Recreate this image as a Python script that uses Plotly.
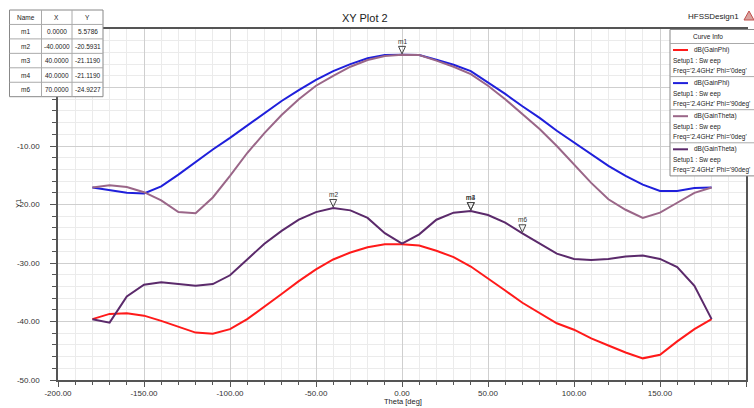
import plotly.graph_objects as go

# ---------------- data ----------------
theta = list(range(-180, 181, 10))

gainphi_phi0 = [-39.6, -38.7, -38.6, -39.0, -39.9, -40.9, -41.9, -42.1, -41.3, -39.6,
                -37.5, -35.3, -33.1, -31.1, -29.4, -28.2, -27.3, -26.8, -26.8,
                -27.0, -27.9, -29.0, -30.6, -32.6, -34.7, -36.8, -38.6, -40.3,
                -41.4, -42.9, -44.1, -45.3, -46.3, -45.7, -43.4, -41.3, -39.6]

gainphi_phi90 = [-17.1, -17.5, -18.0, -18.1, -16.9, -14.9, -12.7, -10.6, -8.6, -6.5,
                 -4.3, -2.3, -0.45, 1.3, 2.8, 4.0, 5.0, 5.55, 5.5786,
                 5.55, 4.75, 3.9, 2.8, 0.9, -1.1, -3.2, -5.2, -7.4,
                 -9.4, -11.4, -13.4, -15.1, -16.6, -17.7, -17.7, -17.2, -17.1]

gaintheta_phi0 = [-17.1, -16.7, -17.0, -17.9, -19.3, -21.3, -21.5, -18.8, -15.1, -11.2,
                  -7.8, -4.7, -2.0, 0.3, 2.0, 3.55, 4.7, 5.4, 5.5786,
                  5.55, 4.6, 3.55, 2.3, 0.3, -2.0, -4.6, -7.1, -10.0,
                  -13.1, -16.3, -19.1, -20.9, -22.3, -21.4, -19.7, -18.0, -17.1]

gaintheta_phi90 = [-39.6, -40.2, -35.7, -33.7, -33.3, -33.6, -33.9, -33.6, -32.1, -29.4,
                   -26.7, -24.5, -22.6, -21.3, -20.5931, -21.0, -22.3, -24.9, -26.7,
                   -25.1, -22.6, -21.4, -21.119, -21.8, -23.1, -24.9224, -26.7, -28.4,
                   -29.3, -29.5, -29.3, -28.9, -28.7, -29.3, -30.7, -33.9, -39.6]

series_names = ["dB(GainPhi)", "dB(GainPhi)", "dB(GainTheta)", "dB(GainTheta)"]
series_freq = ["Freq='2.4GHz' Phi='0deg'", "Freq='2.4GHz' Phi='90deg'",
               "Freq='2.4GHz' Phi='0deg'", "Freq='2.4GHz' Phi='90deg'"]
series_colors = ["#ff1a1a", "#1f1fdb", "#9a6688", "#5b2a6b"]
series_values = [gainphi_phi0, gainphi_phi90, gaintheta_phi0, gaintheta_phi90]

marker_names = ["m1", "m2", "m3", "m4", "m6"]
marker_x = [0.0, -40.0, 40.0, 40.0, 70.0]
marker_y = [5.5786, -20.5931, -21.1190, -21.1190, -24.9227]

x_ticks = [-200, -150, -100, -50, 0, 50, 100, 150, 200]
y_ticks = [-50, -40, -30, -20, -10, 0, 10]

# ---------------- layout helpers ----------------
W, H = 754, 408
PL, PR, PT, PB = 58, 746, 29, 380
FONT = "Liberation Sans, Arial, sans-serif"
TXT = "#222222"


def px(x):
    return (x - PL) / (PR - PL)


def py(y):
    return (PB - y) / (PB - PT)


fig = go.Figure()
for vals, col in zip(series_values, series_colors):
    fig.add_trace(go.Scatter(x=theta, y=vals, mode="lines",
                             line=dict(color=col, width=2), showlegend=False,
                             hoverinfo="skip"))

shapes = []
annotations = []

# marker triangles and labels
for name, mx, my in zip(marker_names, marker_x, marker_y):
    shapes.append(dict(type="path", xref="x", yref="y", xsizemode="pixel", ysizemode="pixel",
                       xanchor=mx, yanchor=my, path="M -3.5,8.5 L 3.5,8.5 L 0,1 Z",
                       line=dict(color="#444444", width=1), fillcolor="rgba(255,255,255,0)",
                       layer="above"))
    annotations.append(dict(x=mx, y=my, xref="x", yref="y", text=name, showarrow=False,
                            yshift=13.5, font=dict(family=FONT, size=6.5, color="#333333")))

# marker table (top-left)
tx = [9.5, 41.5, 72, 103]
ty0, rh = 10, 14.45
nrows = len(marker_names) + 1
shapes.append(dict(type="rect", xref="paper", yref="paper",
                   x0=px(tx[0]), x1=px(tx[-1]), y0=py(ty0), y1=py(ty0 + rh * nrows),
                   line=dict(color="#888888", width=1), fillcolor="white", layer="above"))
for r in range(1, nrows):
    shapes.append(dict(type="line", xref="paper", yref="paper",
                       x0=px(tx[0]), x1=px(tx[-1]), y0=py(ty0 + rh * r), y1=py(ty0 + rh * r),
                       line=dict(color="#aaaaaa", width=1), layer="above"))
for c in (1, 2):
    shapes.append(dict(type="line", xref="paper", yref="paper",
                       x0=px(tx[c]), x1=px(tx[c]), y0=py(ty0), y1=py(ty0 + rh * nrows),
                       line=dict(color="#aaaaaa", width=1), layer="above"))
header = ["Name", "X", "Y"]
rows = [header] + [[n, f"{x:.4f}", f"{y:.4f}"] for n, x, y in zip(marker_names, marker_x, marker_y)]
for r, row in enumerate(rows):
    for c, txt in enumerate(row):
        annotations.append(dict(x=px((tx[c] + tx[c + 1]) / 2), y=py(ty0 + rh * (r + 0.5)),
                                xref="paper", yref="paper", text=txt, showarrow=False,
                                xanchor="center", yanchor="middle", borderpad=0,
                                font=dict(family=FONT, size=6.5, color=TXT)))

# curve info box (top-right)
lx0, lx1 = 670, 760
ly0, lhead, lent = 29.5, 43.5, 33.1
shapes.append(dict(type="rect", xref="paper", yref="paper",
                   x0=px(lx0), x1=px(lx1), y0=py(ly0), y1=py(lhead + lent * 4),
                   line=dict(color="#888888", width=1), fillcolor="white", layer="above"))
annotations.append(dict(x=px(708), y=py(36.5), xref="paper", yref="paper", text="Curve Info",
                        showarrow=False, xanchor="center", yanchor="middle", borderpad=0,
                        font=dict(family=FONT, size=6.5, color=TXT)))
for i, (nm, fq, col) in enumerate(zip(series_names, series_freq, series_colors)):
    top = lhead + lent * i
    shapes.append(dict(type="line", xref="paper", yref="paper",
                       x0=px(lx0), x1=px(lx1), y0=py(top), y1=py(top),
                       line=dict(color="#aaaaaa", width=1), layer="above"))
    shapes.append(dict(type="line", xref="paper", yref="paper",
                       x0=px(673), x1=px(688), y0=py(top + 6.5), y1=py(top + 6.5),
                       line=dict(color=col, width=2), layer="above"))
    annotations.append(dict(x=px(692.5), y=py(top + 6.5), xref="paper", yref="paper", text=nm,
                            showarrow=False, xanchor="left", yanchor="middle", borderpad=0,
                            font=dict(family=FONT, size=6.5, color=TXT)))
    annotations.append(dict(x=px(672), y=py(top + 17.5), xref="paper", yref="paper",
                            text="Setup1 : Sw eep", showarrow=False, xanchor="left",
                            yanchor="middle", borderpad=0,
                            font=dict(family=FONT, size=6.5, color=TXT)))
    annotations.append(dict(x=px(672), y=py(top + 27.5), xref="paper", yref="paper", text=fq,
                            showarrow=False, xanchor="left", yanchor="middle", borderpad=0,
                            font=dict(family=FONT, size=6.5, color=TXT)))

# title / design name / axis titles
annotations.append(dict(x=px(365), y=py(17.5), xref="paper", yref="paper", text="XY Plot 2",
                        showarrow=False, xanchor="center", yanchor="middle",
                        font=dict(family=FONT, size=11, color=TXT)))
annotations.append(dict(x=px(713), y=py(17), xref="paper", yref="paper", text="HFSSDesign1",
                        showarrow=False, xanchor="center", yanchor="middle",
                        font=dict(family=FONT, size=8, color=TXT)))
shapes.append(dict(type="path", xref="paper", yref="paper",
                   path=f"M {px(744)},{py(20)} L {px(754)},{py(20)} L {px(749)},{py(11)} Z",
                   line=dict(color="#c0504d", width=1), fillcolor="#d9a29e"))
annotations.append(dict(x=px(403), y=py(401), xref="paper", yref="paper", text="Theta [deg]",
                        showarrow=False, xanchor="center", yanchor="middle",
                        font=dict(family=FONT, size=7.5, color=TXT)))
annotations.append(dict(x=px(18), y=py(204), xref="paper", yref="paper", text="Y1",
                        showarrow=False, textangle=-90, xanchor="center", yanchor="middle",
                        font=dict(family=FONT, size=7.5, color=TXT)))

fig.update_layout(
    width=W, height=H,
    margin=dict(l=PL, r=W - PR, t=PT, b=H - PB, autoexpand=False),
    paper_bgcolor="white", plot_bgcolor="white",
    shapes=shapes, annotations=annotations,
    font=dict(family=FONT, size=8, color=TXT),
    showlegend=False,
)
fig.update_xaxes(range=[-200, 200], tickvals=x_ticks, automargin=False,
                 ticktext=[f"{v:.2f}" for v in x_ticks],
                 showgrid=True, gridcolor="#cfcfcf", gridwidth=1,
                 minor=dict(dtick=10, showgrid=True, gridcolor="#ebebeb", ticks="outside",
                            ticklen=3, tickcolor="#555555"),
                 ticks="outside", ticklen=5, tickcolor="#555555",
                 showline=True, linecolor="#555555", linewidth=1.5, mirror=True,
                 zeroline=False, tickfont=dict(family=FONT, size=8, color="#333333"))
fig.update_yaxes(range=[-50, 10], tickvals=y_ticks, automargin=False,
                 ticktext=[f"{v:.2f}" for v in y_ticks],
                 showgrid=True, gridcolor="#cfcfcf", gridwidth=1,
                 minor=dict(dtick=2, showgrid=True, gridcolor="#ebebeb", ticks="outside",
                            ticklen=4, tickcolor="#555555"),
                 ticks="outside", ticklen=6, tickcolor="#555555",
                 showline=True, linecolor="#555555", linewidth=1.5, mirror=True,
                 zeroline=False, ticklabelstandoff=9,
                 tickfont=dict(family=FONT, size=8, color="#333333"))

fig.write_html("out.html", config={"displayModeBar": False},
               post_script="document.body.style.margin='0';document.body.style.padding='0';")
